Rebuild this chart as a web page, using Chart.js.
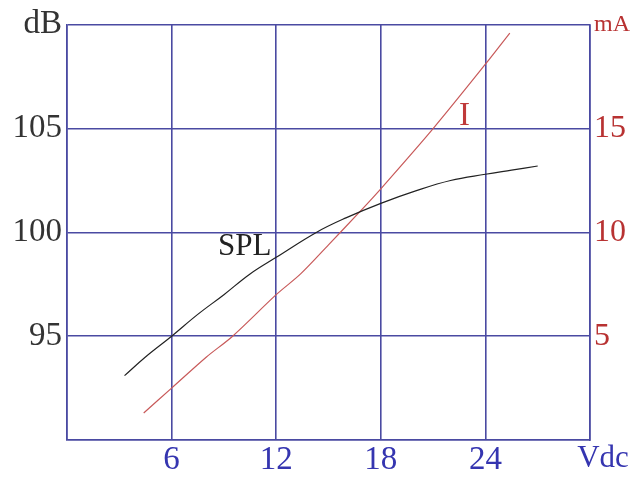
<!DOCTYPE html>
<html>
<head>
<meta charset="utf-8">
<script src="https://cdn.jsdelivr.net/npm/chart.js@4/dist/chart.umd.min.js"></script>
<style>
html,body{margin:0;padding:0;background:#fff;}
#wrap{width:631px;height:479px;position:relative;}
</style>
</head>
<body>
<div id="wrap"><canvas id="c" width="631" height="479"></canvas></div>
<script>
// Data
const splVoltage = [3.3, 4.5, 6, 7.5, 9, 10.5, 12, 14.3, 16, 18, 20, 22, 24, 25.5, 27];
const splDb      = [93.1, 94.0, 95.0, 96.05, 97.0, 98.0, 98.8, 100.0, 100.7, 101.4, 102.0, 102.5, 102.8, 103.0, 103.2];
const curVoltage = [4.4, 6, 8, 9.5, 12, 13.4, 15, 16.8, 18, 21, 24, 25.4];
const curMa      = [1.3, 2.5, 4.0, 5.0, 7.0, 8.0, 9.4, 11.0, 12.1, 15.0, 18.1, 19.6];
const xTicks = [6, 12, 18, 24];
const dbTicks = [95, 100, 105];
const maTicks = [5, 10, 15];
const xUnit = 'Vdc', dbUnit = 'dB', maUnit = 'mA';
const splLabel = 'SPL', curLabel = 'I';

const GRID = '#4a4aa2';
const FONT = 'Liberation Serif';
const toPts = (xs, ys) => xs.map((x, i) => ({x, y: ys[i]}));

const annot = {
  id: 'annot',
  afterDatasetsDraw(chart) {
    const {ctx, scales} = chart;
    ctx.save();
    ctx.textAlign = 'center';
    ctx.textBaseline = 'middle';
    ctx.font = '31px "' + FONT + '"';
    ctx.fillStyle = '#222';
    ctx.fillText(splLabel, scales.x.getPixelForValue(10.2), scales.y.getPixelForValue(99.3));
    ctx.font = '33px "' + FONT + '"';
    ctx.fillStyle = '#c03a3a';
    ctx.fillText(curLabel, scales.x.getPixelForValue(22.8), scales.y2.getPixelForValue(15.6));
    // x axis unit label
    ctx.font = '31px "' + FONT + '"';
    ctx.fillStyle = '#3535b0';
    ctx.textBaseline = 'top';
    ctx.fillText(xUnit, scales.x.getPixelForValue(30) + 13, scales.x.top + 3);
    ctx.restore();
  }
};

new Chart(document.getElementById('c'), {
  type: 'line',
  data: {
    datasets: [
      {label: splLabel, data: toPts(splVoltage, splDb), yAxisID: 'y', borderColor: '#222', borderWidth: 1.2,
       pointRadius: 0, tension: 0.4, fill: false},
      {label: curLabel, data: toPts(curVoltage, curMa), yAxisID: 'y2', borderColor: '#c85a5a', borderWidth: 1.2,
       pointRadius: 0, tension: 0.3, fill: false}
    ]
  },
  options: {
    responsive: false,
    animation: false,
    layout: {padding: {top: 22, left: 0, right: 0, bottom: 0}},
    plugins: {legend: {display: false}, tooltip: {enabled: false}},
    scales: {
      x: {
        type: 'linear', min: 0, max: 30,
        afterBuildTicks: s => { s.ticks = [0, ...xTicks, 30].map(v => ({value: v})); },
        afterFit: s => { s.height = 39; },
        grid: {color: GRID, lineWidth: 1.6, drawTicks: false},
        border: {color: GRID, width: 1.6},
        ticks: {
          color: '#3535b0', font: {family: FONT, size: 33}, padding: 1,
          maxRotation: 0, autoSkip: false,
          callback: v => xTicks.includes(v) ? String(v) : ''
        }
      },
      y: {
        type: 'linear', position: 'left', min: 90, max: 110,
        afterBuildTicks: s => { s.ticks = [90, ...dbTicks, 110].map(v => ({value: v})); },
        afterFit: s => { s.width = 67; },
        grid: {color: GRID, lineWidth: 1.6, drawTicks: false},
        border: {color: GRID, width: 1.6},
        ticks: {
          color: '#333', font: {family: FONT, size: 33}, padding: 5, autoSkip: false,
          callback: v => v === 110 ? dbUnit : (dbTicks.includes(v) ? String(v) : '')
        }
      },
      y2: {
        type: 'linear', position: 'right', min: 0, max: 20,
        afterBuildTicks: s => { s.ticks = [0, ...maTicks, 20].map(v => ({value: v})); },
        afterFit: s => { s.width = 41; },
        grid: {drawOnChartArea: false, drawTicks: false},
        border: {color: GRID, width: 1.6},
        ticks: {
          color: '#b83232',
          font: c => ({family: FONT, size: (c.tick && c.tick.value === 20) ? 24 : 32}),
          padding: 4, autoSkip: false,
          callback: v => v === 20 ? maUnit : (maTicks.includes(v) ? String(v) : '')
        }
      }
    }
  },
  plugins: [annot]
});
</script>
</body>
</html>
